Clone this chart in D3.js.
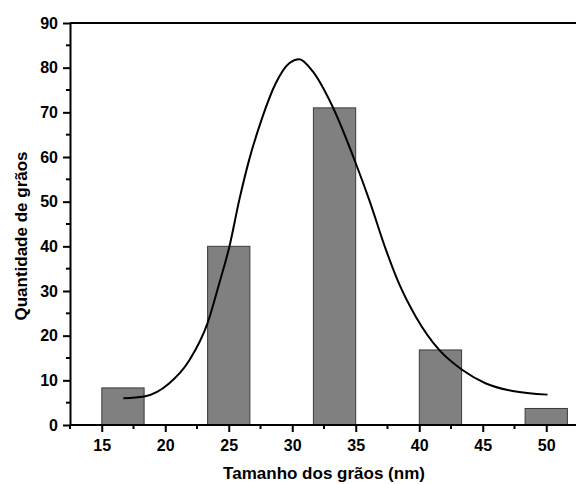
<!DOCTYPE html>
<html>
<head>
<meta charset="utf-8">
<script src="https://cdn.jsdelivr.net/npm/d3@7"></script>
<style>
  html, body { margin: 0; padding: 0; background: #fff; }
  svg { display: block; }
  text { font-family: "Liberation Sans", Arial, sans-serif; font-weight: bold; fill: #000; }
</style>
</head>
<body>
<script>
// ---- data ----
const binCenters = [16.67, 25, 33.33, 41.67, 50];
const binCounts = [8.3, 40, 71, 16.8, 3.7];
const binWidth = 3.33;
const curveX = [16.7, 18.35, 20.3, 21.9, 23.33, 24.25, 25.04, 25.83, 26.6, 27.66, 28.7, 29.76, 30.55, 31.6, 33.17, 35.0, 36.06, 37.38, 38.4, 39.74, 41.57, 43.4, 45.25, 47.35, 50.1];
const curveY = [6.0, 6.4, 9.3, 14.5, 22.8, 31.7, 39.8, 50.4, 59.3, 69, 76.5, 81, 81.9, 79.2, 71.3, 58.6, 50.4, 39.2, 31.7, 24.2, 16.8, 12.3, 9.3, 7.6, 6.8];
const xTicks = [15, 20, 25, 30, 35, 40, 45, 50];
const xMinorTicks = [12.5, 17.5, 22.5, 27.5, 32.5, 37.5, 42.5, 47.5, 52.5];
const yTicks = [0, 10, 20, 30, 40, 50, 60, 70, 80, 90];
const yMinorTicks = [5, 15, 25, 35, 45, 55, 65, 75, 85];
const xTitle = "Tamanho dos grãos (nm)";
const yTitle = "Quantidade de grãos";

(function () {
const W = 576, H = 484;
const mLeft = 70, mTop = 23, mBottom = 425, mRight = 578;

const svg = d3.select("body").append("svg").attr("width", W).attr("height", H);

const x = d3.scaleLinear().domain([12.5, 52.5]).range([mLeft, mRight]);
const y = d3.scaleLinear().domain([0, 90]).range([mBottom, mTop]);

// bars
svg.append("g").selectAll("rect").data(binCenters).join("rect")
  .attr("x", (d) => x(d - binWidth / 2))
  .attr("width", (d) => x(d + binWidth / 2) - x(d - binWidth / 2))
  .attr("y", (d, i) => y(binCounts[i]))
  .attr("height", (d, i) => y(0) - y(binCounts[i]))
  .attr("fill", "#808080")
  .attr("stroke", "#3a3a3a")
  .attr("stroke-width", 1);

// curve
const line = d3.line().x((d) => x(d[0])).y((d) => y(d[1])).curve(d3.curveMonotoneX);
svg.append("path")
  .datum(curveX.map((v, i) => [v, curveY[i]]))
  .attr("d", line)
  .attr("fill", "none")
  .attr("stroke", "#000")
  .attr("stroke-width", 2);

// top border
svg.append("line").attr("x1", mLeft).attr("x2", W).attr("y1", mTop).attr("y2", mTop)
  .attr("stroke", "#000").attr("stroke-width", 2);

// x axis
const xAxis = svg.append("g").attr("transform", `translate(0,${mBottom})`)
  .call(d3.axisBottom(x).tickValues(xTicks).tickSize(7).tickSizeOuter(0).tickPadding(8).tickFormat(d3.format("d")));
xAxis.select(".domain").attr("stroke-width", 2).attr("d", `M${mLeft},0H${W}`);
xAxis.selectAll(".tick line").attr("stroke-width", 2);
xAxis.selectAll(".tick text").attr("font-size", 16).attr("font-family", "Liberation Sans, Arial").attr("font-weight", "bold");
svg.append("g").attr("transform", `translate(0,${mBottom})`)
  .selectAll("line").data(xMinorTicks).join("line")
  .attr("x1", (d) => x(d)).attr("x2", (d) => x(d)).attr("y1", 0).attr("y2", 4)
  .attr("stroke", "#000").attr("stroke-width", 2);

// y axis
const yAxis = svg.append("g").attr("transform", `translate(${mLeft},0)`)
  .call(d3.axisLeft(y).tickValues(yTicks).tickSize(7).tickSizeOuter(0).tickPadding(5).tickFormat(d3.format("d")));
yAxis.select(".domain").attr("stroke-width", 2);
yAxis.selectAll(".tick line").attr("stroke-width", 2);
yAxis.selectAll(".tick text").attr("font-size", 16).attr("font-family", "Liberation Sans, Arial").attr("font-weight", "bold");
svg.append("g").attr("transform", `translate(${mLeft},0)`)
  .selectAll("line").data(yMinorTicks).join("line")
  .attr("y1", (d) => y(d)).attr("y2", (d) => y(d)).attr("x1", 0).attr("x2", -4)
  .attr("stroke", "#000").attr("stroke-width", 2);

// titles
svg.append("text").attr("x", 324).attr("y", 479).attr("text-anchor", "middle")
  .attr("font-size", 17).text(xTitle);
svg.append("text").attr("transform", "translate(27,236) rotate(-90)").attr("text-anchor", "middle")
  .attr("font-size", 17).text(yTitle);
})();
</script>
</body>
</html>
